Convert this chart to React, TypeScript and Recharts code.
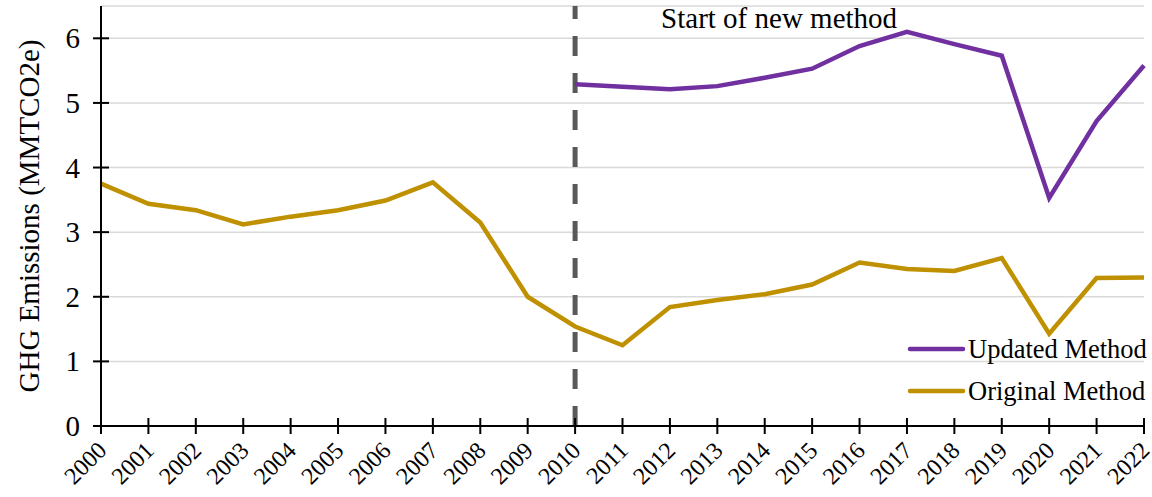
import React from 'react';
import { LineChart, Line, XAxis, YAxis, CartesianGrid, ReferenceLine } from 'recharts';

const years = ['2000','2001','2002','2003','2004','2005','2006','2007','2008','2009','2010','2011','2012','2013','2014','2015','2016','2017','2018','2019','2020','2021','2022'];
const original = [3.75,3.44,3.34,3.12,3.24,3.34,3.49,3.77,3.15,2.0,1.54,1.25,1.84,1.95,2.04,2.19,2.53,2.43,2.4,2.6,1.43,2.29,2.3];
const updated: (number|null)[] = [null,null,null,null,null,null,null,null,null,null,5.29,5.25,5.21,5.26,5.39,5.53,5.88,6.1,5.91,5.73,3.53,4.72,5.58];
const yTicks = [0,1,2,3,4,5,6];
const legendItems = [{ c: '#7030A0', t: 'Updated Method' }, { c: '#BF9000', t: 'Original Method' }];

const data = years.map((y, i) => ({ year: y, original: original[i], updated: updated[i] }));

const FONT = '"Liberation Serif", "Times New Roman", serif';

const XTick = (props: any) => {
  const { x, y, payload } = props;
  return (
    <g>
      <line x1={x} x2={x} y1={y - 8} y2={y + 8} stroke="#000" strokeWidth={2} />
      <text x={x + 3} y={y + 22} transform={`rotate(-45 ${x + 3} ${y + 22})`} textAnchor="end" dominantBaseline="middle" fontFamily={FONT} fontSize={24} fill="#000">
        {payload.value}
      </text>
    </g>
  );
};

const YTick = (props: any) => {
  const { x, y, payload } = props;
  return (
    <g>
      <line x1={x - 8} x2={x + 8} y1={y} y2={y} stroke="#000" strokeWidth={2} />
      <text x={x - 21} y={y} textAnchor="end" dominantBaseline="central" fontFamily={FONT} fontSize={29} fill="#000">
        {payload.value}
      </text>
    </g>
  );
};

const RefLabel = (props: any) => {
  const { viewBox } = props;
  return (
    <text x={viewBox.x + 204} y={28} textAnchor="middle" fontFamily={FONT} fontSize={29} fill="#000">
      Start of new method
    </text>
  );
};

export default function App() {
  return (
    <div style={{ position: 'absolute', left: 0, top: 0, width: 1152, height: 497, background: '#fff' }}>
      <LineChart width={1152} height={497} data={data} margin={{ top: 6, right: 8, bottom: 0, left: 0 }}>
        <CartesianGrid vertical={false} stroke="#d9d9d9" strokeWidth={1.5} />
        <XAxis dataKey="year" interval={0} height={71} tick={<XTick />} tickLine={false} tickSize={0} tickMargin={0} axisLine={{ stroke: '#000', strokeWidth: 2 }} />
        <YAxis domain={[0, 6.5]} ticks={yTicks} width={101} tick={<YTick />} tickLine={false} tickSize={0} tickMargin={0} axisLine={{ stroke: '#000', strokeWidth: 2 }}
          label={{ value: 'GHG Emissions (MMTCO2e)', angle: -90, position: 'insideLeft', dx: 24, dy: 0, style: { fontFamily: FONT, fontSize: 29, fill: '#000', textAnchor: 'middle' } }} />
        <ReferenceLine x="2010" stroke="#595959" strokeWidth={5} strokeDasharray="20 17" label={<RefLabel />} />
        <Line dataKey="updated" stroke="#7030A0" strokeWidth={4.5} dot={false} isAnimationActive={false} connectNulls={false} />
        <Line dataKey="original" stroke="#BF9000" strokeWidth={4.5} dot={false} isAnimationActive={false} />
      </LineChart>
      <div style={{ position: 'absolute', left: 906, top: 328, fontFamily: FONT, fontSize: 26.5, color: '#000', lineHeight: '42px' }}>
        {legendItems.map((e) => (
          <div key={e.t} style={{ display: 'flex', alignItems: 'center', height: 42 }}>
            <svg width={62} height={10}><line x1={4} x2={57} y1={5} y2={5} stroke={e.c} strokeWidth={4.5} strokeLinecap="round" /></svg>
            <span>{e.t}</span>
          </div>
        ))}
      </div>
    </div>
  );
}
